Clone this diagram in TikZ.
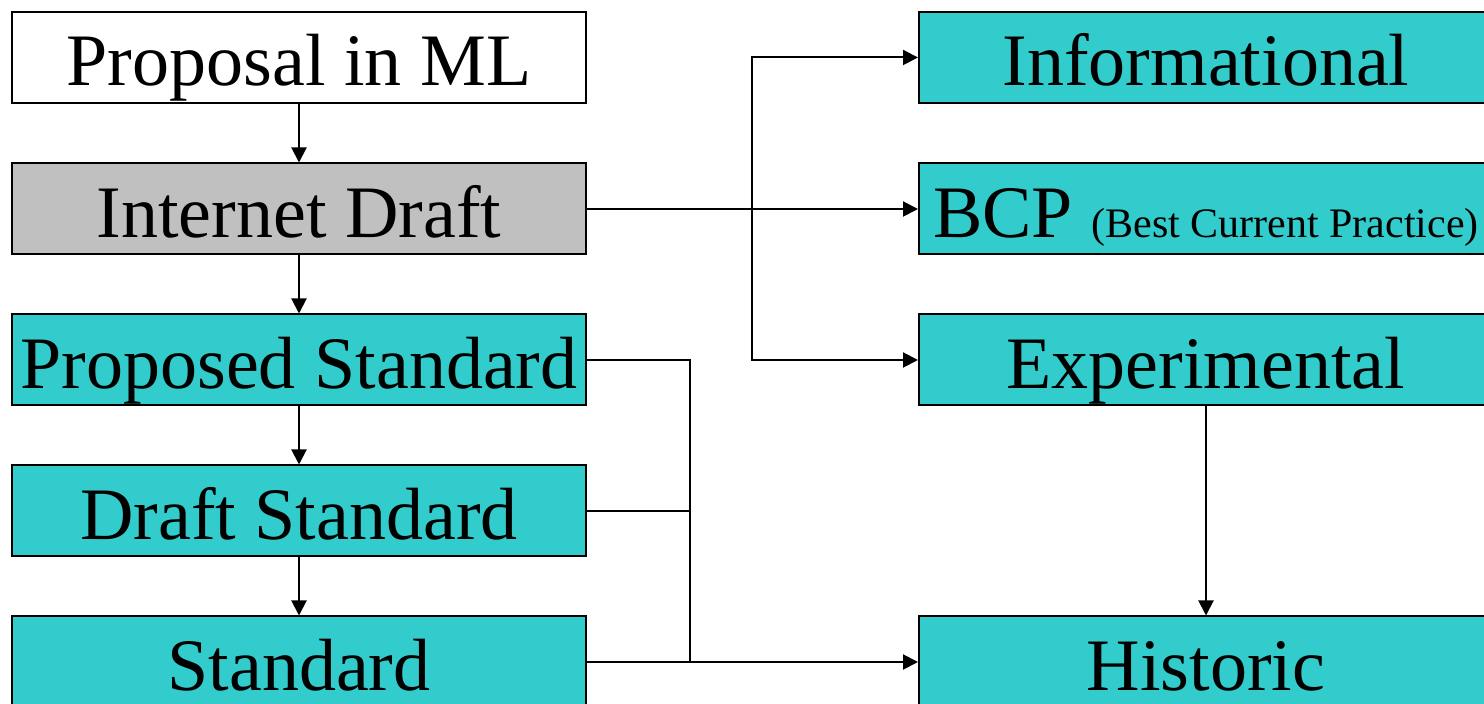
\documentclass[tikz,border=0pt]{standalone}
\usepackage{fontspec}
\setmainfont{Liberation Serif}
\usetikzlibrary{arrows.meta}
\definecolor{rfcteal}{RGB}{51,204,204}
\definecolor{rfcgray}{RGB}{192,192,192}
\begin{document}
\begin{tikzpicture}[x=0.5pt,y=-0.5pt,
  stage/.style={draw,line width=1pt,fill=rfcteal,minimum width=287pt,
    minimum height=45.5pt,inner sep=0pt,font=\fontsize{37}{37}\selectfont,
    text height=28.5pt,text depth=0pt},
  link/.style={line width=1pt,-{Triangle[length=7.5pt,width=7.5pt]}}]
\useasboundingbox (0,0) rectangle (1484,704);
\clip (0,0) rectangle (1484,704);
\fill[white] (0,0) rectangle (1484,704);
% left column: standards track
\node[stage,fill=white] (ml) at (299,57.5) {Proposal in ML};
\node[stage,fill=rfcgray] (id) at (299,209) {Internet Draft};
\node[stage] (ps) at (299,360) {Proposed Standard};
\node[stage] (ds) at (299,511) {Draft Standard};
\node[stage] (std) at (299,662) {Standard};
% right column
\node[stage] (info) at (1206,57.5) {Informational};
\node[stage] (bcp) at (1206,209)
  {BCP {\fontsize{21}{21}\selectfont (Best Current Practice)}};
\node[stage] (exp) at (1206,360) {Experimental};
\node[stage] (hist) at (1206,662) {Historic};
\coordinate (split) at (752,209);
\coordinate (merge) at (690,662);
\foreach \a/\b in {ml/id,id/ps,ps/ds,ds/std,exp/hist}
  \draw[link] (\a) -- (\b);
\draw[link] (id.east) -- (bcp.west);
\draw[link] (split) |- (info.west);
\draw[link] (split) |- (exp.west);
\draw[line width=1pt] (ps.east) -| (merge);
\draw[line width=1pt] (ds.east) -| (merge);
\draw[link] (std.east) -- (hist.west);
\end{tikzpicture}
\end{document}
